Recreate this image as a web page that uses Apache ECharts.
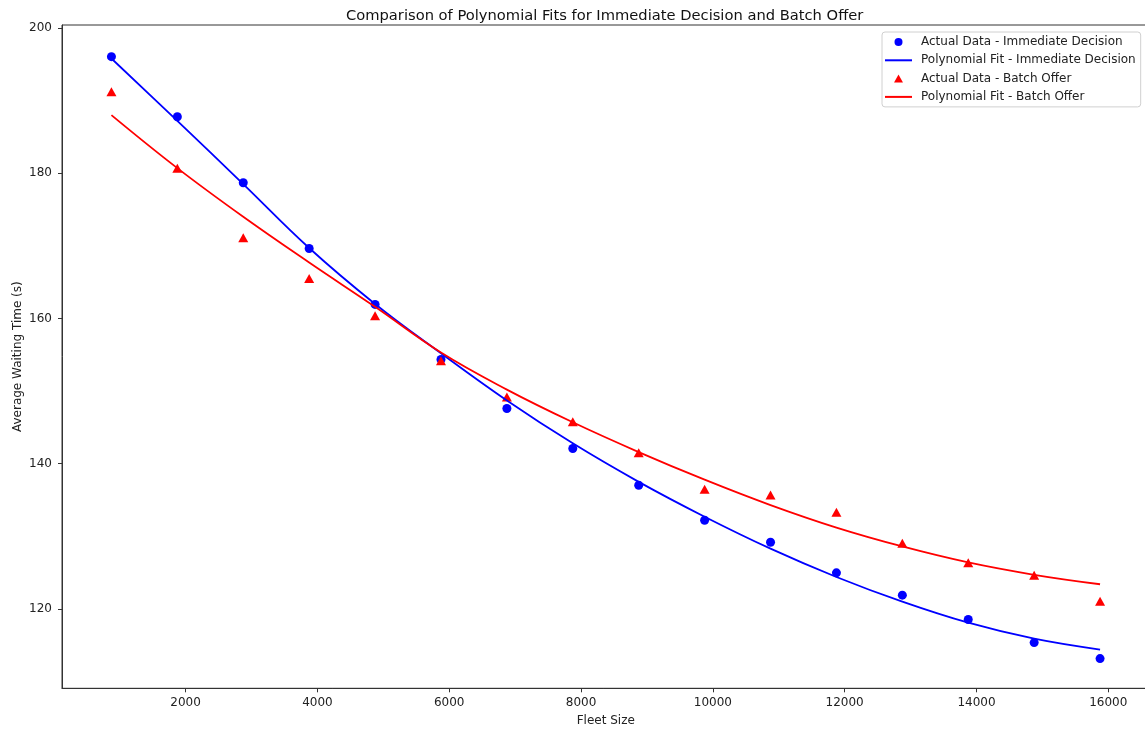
<!DOCTYPE html>
<html>
<head>
<meta charset="utf-8">
<script src="https://cdn.jsdelivr.net/npm/echarts@6/dist/echarts.min.js"></script>
<style>
html,body{margin:0;padding:0;background:#fff;}
#chart{width:1145px;height:731px;}
</style>
</head>
<body>
<div id="chart"></div>
<script>
var fleetSizes = [875, 1875, 2875, 3875, 4875, 5875, 6875, 7875, 8875, 9875, 10875, 11875, 12875, 13875, 14875, 15875];
var immediateActual = [196.05, 187.78, 178.69, 169.64, 161.93, 154.35, 147.60, 142.09, 137.03, 132.21, 129.18, 124.97, 121.90, 118.55, 115.36, 113.16];
var immediateFit = [195.8, 187.2, 178.5, 169.7, 162.0, 155.2, 148.7, 142.8, 137.5, 132.7, 128.3, 124.4, 121.0, 118.1, 115.9, 114.4];
var batchActual = [191.22, 180.67, 171.11, 165.51, 160.36, 154.16, 149.20, 145.76, 141.49, 136.48, 135.70, 133.30, 129.05, 126.36, 124.64, 121.05];
var batchFit = [188.0, 180.7, 174.0, 167.7, 161.6, 155.3, 150.2, 145.7, 141.6, 137.8, 134.3, 131.2, 128.6, 126.4, 124.7, 123.4];
var xTicks = [2000, 4000, 6000, 8000, 10000, 12000, 14000, 16000];
var yTicks = [120, 140, 160, 180, 200];

function pairs(xs, ys) { return xs.map(function (x, i) { return [x, ys[i]]; }); }

var FONT = 'DejaVu Sans';
var chart = echarts.init(document.getElementById('chart'), null, { renderer: 'canvas' });
var lineIcon = 'path://M0,0L27,0L27,2L0,2Z';
var triIcon = 'path://M5,0L10,9L0,9Z';

chart.setOption({
  animation: false,
  backgroundColor: '#ffffff',
  textStyle: { fontFamily: FONT },
  title: {
    text: 'Comparison of Polynomial Fits for Immediate Decision and Batch Offer',
    left: 341, top: 4,
    textStyle: { fontFamily: FONT, fontSize: 14.7, fontWeight: 'normal', color: '#111' }
  },
  grid: {
    left: 62, top: 25, width: 1087.5, height: 663.3,
    outerBoundsMode: 'none', containLabel: false,
    show: true, borderColor: '#333', borderWidth: 1, backgroundColor: 'transparent'
  },
  legend: {
    orient: 'vertical',
    left: 882, top: 32,
    padding: [3, 5, 3, 3],
    itemWidth: 27, itemHeight: 8, itemGap: 4.3,
    symbolKeepAspect: true,
    backgroundColor: '#fff', borderColor: '#d0d0d0', borderWidth: 1, borderRadius: 3,
    textStyle: { fontFamily: FONT, fontSize: 12, color: '#222', lineHeight: 14, padding: [0, 0, 0, 4] },
    data: [
      { name: 'Actual Data - Immediate Decision', icon: 'circle' },
      { name: 'Polynomial Fit - Immediate Decision', icon: lineIcon },
      { name: 'Actual Data - Batch Offer', icon: triIcon },
      { name: 'Polynomial Fit - Batch Offer', icon: lineIcon }
    ]
  },
  xAxis: {
    type: 'value', min: 125, max: 16625,
    name: 'Fleet Size', nameLocation: 'middle', nameGap: 27, nameMoveOverlap: false,
    nameTextStyle: { fontFamily: FONT, fontSize: 12, color: '#222' },
    axisLine: { show: true, lineStyle: { color: '#333', width: 1 } },
    axisTick: { show: true, inside: false, length: 4, customValues: xTicks, lineStyle: { color: '#333' } },
    axisLabel: {
      customValues: xTicks, margin: 9, fontFamily: FONT, fontSize: 12, color: '#222',
      formatter: function (v) { return String(v); }
    },
    splitLine: { show: false }
  },
  yAxis: {
    type: 'value', min: 109.07, max: 200.41,
    name: 'Average Waiting Time (s)', nameLocation: 'middle', nameGap: 38, nameRotate: 90,
    nameMoveOverlap: false,
    nameTextStyle: { fontFamily: FONT, fontSize: 12, color: '#222' },
    axisLine: { show: true, lineStyle: { color: '#333', width: 1 } },
    axisTick: { show: true, inside: false, length: 4, customValues: yTicks, lineStyle: { color: '#333' } },
    axisLabel: {
      customValues: yTicks, margin: 10, fontFamily: FONT, fontSize: 12, color: '#222',
      formatter: function (v) { return String(v); }
    },
    splitLine: { show: false }
  },
  series: [
    {
      name: 'Actual Data - Immediate Decision', type: 'scatter',
      data: pairs(fleetSizes, immediateActual),
      symbol: 'circle', symbolSize: 9,
      itemStyle: { color: '#0000ff', opacity: 1 }
    },
    {
      name: 'Polynomial Fit - Immediate Decision', type: 'line',
      data: pairs(fleetSizes, immediateFit),
      smooth: 0.4, showSymbol: false, symbol: 'none',
      lineStyle: { color: '#0000ff', width: 1.8 },
      itemStyle: { color: '#0000ff' }
    },
    {
      name: 'Actual Data - Batch Offer', type: 'scatter',
      data: pairs(fleetSizes, batchActual),
      symbol: 'triangle', symbolSize: [10, 9],
      itemStyle: { color: '#ff0000', opacity: 1 }
    },
    {
      name: 'Polynomial Fit - Batch Offer', type: 'line',
      data: pairs(fleetSizes, batchFit),
      smooth: 0.4, showSymbol: false, symbol: 'none',
      lineStyle: { color: '#ff0000', width: 1.8 },
      itemStyle: { color: '#ff0000' }
    }
  ]
});
</script>
</body>
</html>
